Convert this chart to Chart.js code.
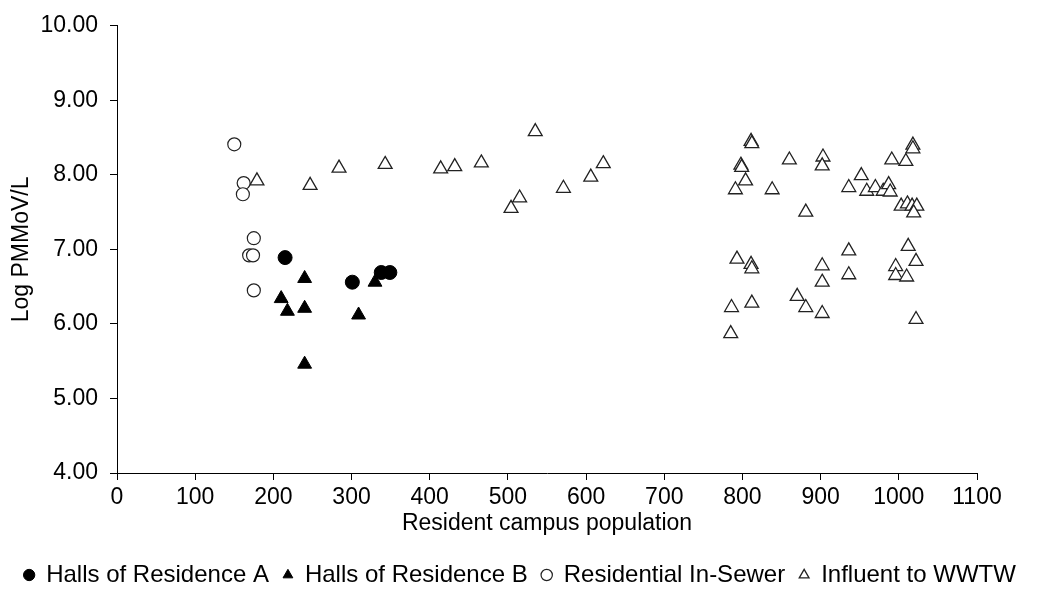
<!DOCTYPE html>
<html>
<head>
<meta charset="utf-8">
<script src="https://cdn.jsdelivr.net/npm/chart.js@4"></script>
<style>
  body { margin: 0; background: #fff; }
</style>
</head>
<body>
<canvas id="graf" width="1040" height="590"></canvas>
<script>
// valores
const hallsA_x = [215, 301, 338, 349]
const hallsA_y = [6.89, 6.56, 6.69, 6.69]

const hallsB_x = [210, 218, 240, 240, 240, 309, 330]
const hallsB_y = [6.34, 6.17, 6.61, 6.21, 5.46, 6.12, 6.56]

const sewer_x = [150, 162, 161, 175, 169, 174, 175]
const sewer_y = [8.41, 7.89, 7.74, 7.15, 6.92, 6.92, 6.45]

const influent_x = [179, 247, 284, 343, 414, 432, 466, 535, 504, 515, 571, 606, 622,
    791, 798, 799, 804, 811, 812,
    838, 860, 903, 902, 881, 952, 936, 959, 970, 980, 987, 989, 991, 1009, 1018, 1018, 1003, 1011, 1017, 1023, 1019,
    793, 811, 812, 812, 786, 785,
    936, 902, 902, 936, 870, 881, 902, 1012, 1022, 996, 996, 1010, 1022]
const influent_y = [7.92, 7.86, 8.09, 8.14, 8.08, 8.11, 8.16, 8.58, 7.55, 7.69, 7.82, 7.97, 8.15,
    7.80, 8.13, 8.10, 7.92, 8.45, 8.42,
    7.80, 8.20, 8.24, 8.12, 7.50, 7.99, 7.83, 7.78, 7.83, 7.78, 7.87, 7.77, 8.20, 8.18, 8.40, 8.35, 7.58, 7.61, 7.58, 7.58, 7.49,
    6.87, 6.80, 6.74, 6.28, 6.22, 5.87,
    6.98, 6.78, 6.56, 6.66, 6.37, 6.22, 6.14, 7.04, 6.84, 6.77, 6.65, 6.63, 6.06]

const xTicks = [0, 100, 200, 300, 400, 500, 600, 700, 800, 900, 1000, 1100]
const yTicks = [4, 5, 6, 7, 8, 9, 10]

function pontos(xs, ys) {
    let array = []
    for (let i = 0; i < xs.length; i++) {
        array.push({x: xs[i], y: ys[i]})
    }
    return array
}

Chart.defaults.font.family = "'Liberation Sans', Arial, sans-serif"
Chart.defaults.color = '#000'

const ctx = document.getElementById('graf').getContext('2d')
const chart = new Chart(ctx, {
    type: 'scatter',
    data: {
        datasets: [{
                label: 'Halls of Residence A',
                data: pontos(hallsA_x, hallsA_y),
                pointStyle: 'circle',
                pointRadius: 7,
                pointBackgroundColor: '#000',
                pointBorderColor: '#000',
                pointBorderWidth: 1
            }, {
                label: 'Halls of Residence B',
                data: pontos(hallsB_x, hallsB_y),
                pointStyle: 'triangle',
                pointRadius: 8,
                pointBackgroundColor: '#000',
                pointBorderColor: '#000',
                pointBorderWidth: 1
            }, {
                label: 'Residential In-Sewer',
                data: pontos(sewer_x, sewer_y),
                pointStyle: 'circle',
                pointRadius: 6.5,
                pointBackgroundColor: '#fff',
                pointBorderColor: '#222',
                pointBorderWidth: 1.2
            }, {
                label: 'Influent to WWTW',
                data: pontos(influent_x, influent_y),
                pointStyle: 'triangle',
                pointRadius: 8,
                pointBackgroundColor: '#fff',
                pointBorderColor: '#222',
                pointBorderWidth: 1.3
            }]
    },
    options: {
        responsive: false,
        animation: false,
        devicePixelRatio: 1,
        layout: {
            padding: {top: 19, right: 0, left: 0, bottom: -7}
        },
        plugins: {
            tooltip: {enabled: false},
            legend: {
                position: 'bottom',
                labels: {
                    usePointStyle: true,
                    boxWidth: 10,
                    boxHeight: 8,
                    padding: 14,
                    font: {size: 24}
                }
            }
        },
        scales: {
            x: {
                type: 'linear',
                position: 'bottom',
                min: 0,
                max: 1100,
                afterBuildTicks: (s) => { s.ticks = xTicks.map(v => ({value: v})) },
                afterFit: (s) => { s.height = 76 },
                grid: {drawOnChartArea: false, tickLength: 7, color: '#000'},
                border: {color: '#000', width: 1},
                ticks: {padding: 4, font: {size: 23}, callback: (v) => String(v)},
                title: {
                    display: true,
                    text: 'Resident campus population',
                    font: {size: 23},
                    padding: {top: 0, bottom: 12}
                }
            },
            y: {
                min: 4,
                max: 10,
                afterBuildTicks: (s) => { s.ticks = yTicks.map(v => ({value: v})) },
                afterFit: (s) => { s.width = 117 },
                grid: {drawOnChartArea: false, tickLength: 7, color: '#000'},
                border: {color: '#000', width: 1},
                ticks: {padding: 12, font: {size: 23}, callback: (v) => v.toFixed(2)},
                title: {
                    display: true,
                    text: 'Log PMMoV/L',
                    font: {size: 23},
                    padding: {top: 8, bottom: 0}
                }
            },
            // eixo vazio a direita so para reservar a margem
            margem: {
                type: 'linear',
                position: 'right',
                afterFit: (s) => { s.width = 63 },
                grid: {display: false},
                border: {display: false},
                ticks: {display: false}
            }
        }
    }})
</script>
</body>
</html>
